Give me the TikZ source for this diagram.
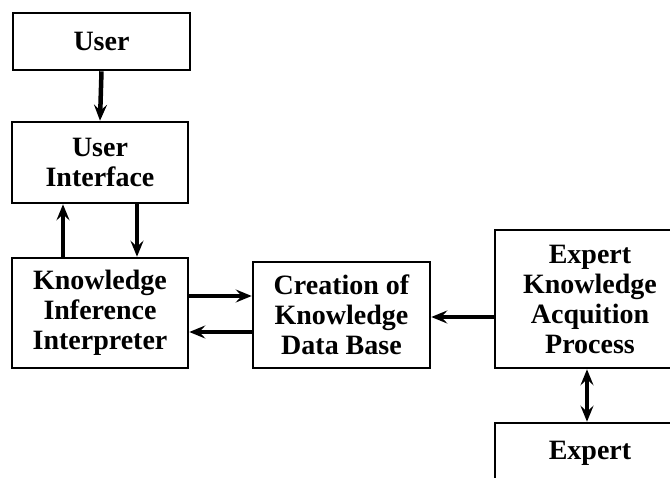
\documentclass[tikz,border=0pt]{standalone}
\usepackage{fontspec}
\setmainfont{Liberation Serif}
\usetikzlibrary{arrows.meta,calc}

\tikzset{
  blockbox/.style={draw, line width=2.6pt, inner sep=0pt, align=center,
    font=\fontsize{28}{30}\selectfont\bfseries},
  tip/.style={Stealth[length=16pt,width=13pt,inset=6pt]},
  flow/.style={line width=4.5pt, -{Stealth[length=16pt,width=13pt,inset=6pt]}},
  twoway/.style={line width=4.5pt,
    {Stealth[length=16pt,width=13pt,inset=6pt]}-{Stealth[length=16pt,width=13pt,inset=6pt]}}
}

\begin{document}
\begin{tikzpicture}[x=1pt,y=1pt]
  \useasboundingbox (0,0) rectangle (670,-478);

  % blocks
  \node[blockbox, minimum width=177pt, minimum height=57pt]  (user)   at (101.5,-41.5) {User};
  \node[blockbox, minimum width=176pt, minimum height=81pt]  (ui)     at (100,-162.5) {User\\Interface};
  \node[blockbox, minimum width=176pt, minimum height=110pt] (kii)    at (100,-313) {Knowledge\\Inference\\Interpreter};
  \node[blockbox, minimum width=177pt, minimum height=106pt] (cdb)    at (341.5,-315) {Creation of\\Knowledge\\Data Base};
  \node[blockbox, minimum width=190pt, minimum height=138pt] (ekap)   at (590,-299) {Expert\\Knowledge\\Acquition\\Process};
  \node[blockbox, minimum width=190pt, minimum height=60pt]  (expert) at (590,-453) {Expert};

  % connectors
  \draw[flow] (user.south) -- (ui.north);
  \draw[flow] ([xshift=-37pt]kii.north) -- ([xshift=-37pt]kii.north |- ui.south);
  \draw[flow] ([xshift=37pt]ui.south) -- ([xshift=37pt]ui.south |- kii.north);
  \draw[flow] ([yshift=17pt]kii.east) -- ([yshift=17pt]kii.east -| cdb.west);
  \draw[flow] ([yshift=-19pt]kii.east -| cdb.west) -- ([yshift=-19pt]kii.east);
  \draw[flow] ([yshift=-18pt]ekap.west) -- ([yshift=-18pt]ekap.west -| cdb.east);
  \draw[twoway] ([xshift=-3pt]ekap.south) -- ([xshift=-3pt]ekap.south |- expert.north);
\end{tikzpicture}
\end{document}
